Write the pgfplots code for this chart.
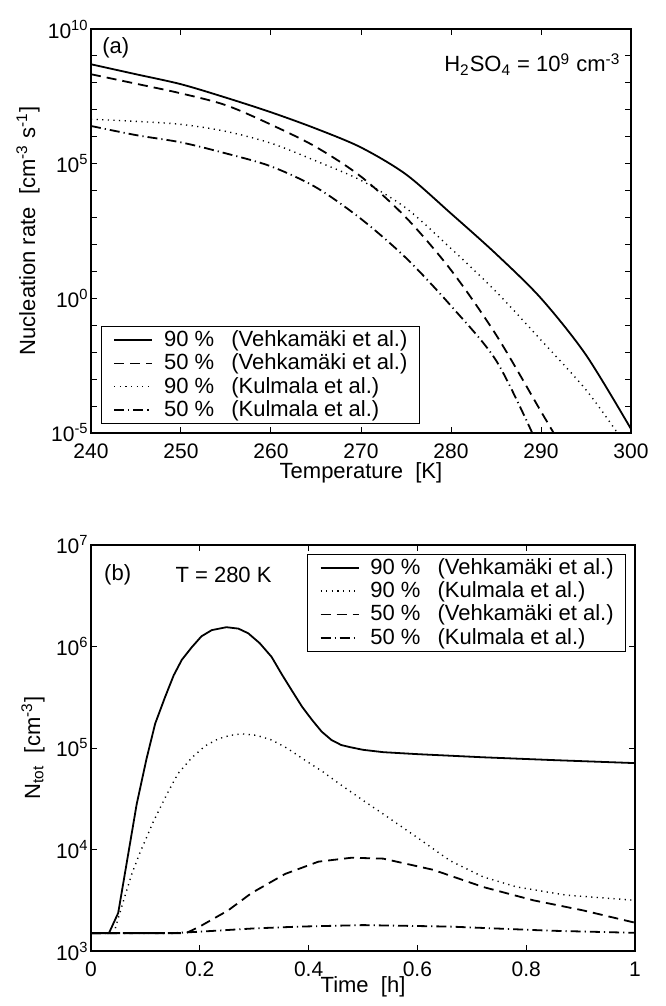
\documentclass[border=0pt]{standalone}
\usepackage{fontspec}
\setmainfont{Liberation Sans}
\usepackage{pgfplots}
\pgfplotsset{compat=1.18}

\newcommand{\lgap}{\hspace{8.5pt}}
\newcommand{\txt}{\fontsize{11}{13}\selectfont}
\pgfplotsset{
  matfig/.style={
    scale only axis,
    axis line style={line width=0.7pt},
    every tick/.style={line width=0.5pt, black},
    major tick length=3pt, minor tick length=2pt,
    tick align=inside,
    /pgf/number format/assume math mode=true,
    tick label style={font=\fontsize{10.5}{12.5}\selectfont},
    yticklabel={\pgfmathparse{int(round(\tick))}10\textsuperscript{\pgfmathresult}},
    yticklabel style={inner sep=1pt},
    xticklabel style={yshift=-2pt},
    every axis x label/.style={at={(axis description cs:0.5,0)}, anchor=center, yshift=-20pt, font=\txt},
    legend cell align=left,
    legend image code/.code={\draw[##1] (0pt,0pt) -- (19pt,0pt);},
    legend style={draw=black, fill=white, inner xsep=6pt, inner ysep=2pt,
      font=\txt, row sep=2.2pt, nodes={inner xsep=0pt, inner ysep=0pt},
      /tikz/every odd column/.append style={column sep=5.5pt}},
  },
  vsolid/.style={black, line width=0.9pt},
  vdash/.style={black, line width=0.9pt, dash pattern=on 5pt off 3pt},
  vdot/.style={black, line width=0.7pt, dash pattern=on 0.6pt off 2.2pt},
  vdashdot/.style={black, line width=0.9pt, dash pattern=on 5pt off 2pt on 0.6pt off 2pt},
}

\begin{document}
\begin{tikzpicture}
% (a) nucleation rate vs temperature
\begin{semilogyaxis}[matfig, log basis y=10,
    width=270pt, height=202pt,
    xmin=240, xmax=300, ymin=1e-5, ymax=1e10,
    xtick={240,250,...,300},
    ytick={1e-5,1,1e5,1e10},
    minor ytick={1e-4,1e-3,1e-2,1e-1,10,100,1e3,1e4,1e6,1e7,1e8,1e9},
    minor tick length=3pt,
    xlabel={Temperature~~[K]},
    ylabel={Nucleation rate~~[cm\textsuperscript{-3} s\textsuperscript{-1}]},
    every axis y label/.style={at={(axis description cs:-0.1167,0.5)}, rotate=90, anchor=center, font=\txt},
    legend style={at={(axis description cs:0.0185,0.0223)}, anchor=south west},
]
\addplot[vsolid, smooth] coordinates {
  (240,4.9e8) (245,2.09e8) (250,8.9e7) (255,2.82e7) (260,8.1e6) (265,2.0e6)
  (270,4.0e5) (275,4.0e4) (280,1.41e3) (285,44.7) (290,1.0) (295,7.9e-3) (300,1.41e-5)
};
\addlegendentry{90 \%\lgap(Vehkamäki et al.)\hspace{3pt}}
\addplot[vdash, smooth] coordinates {
  (240,2.09e8) (245,9.3e7) (250,4.07e7) (255,1.48e7) (260,2.82e6) (265,4.17e5)
  (270,3.31e4) (275,1.0e3) (280,11.2) (285,0.0447) (290,6.3e-5) (291.5,8.9e-6)
};
\addlegendentry{50 \%\lgap(Vehkamäki et al.)\hspace{3pt}}
\addplot[vdot, smooth] coordinates {
  (240,4.47e6) (245,3.72e6) (250,2.88e6) (255,1.58e6) (260,5.75e5) (265,1.26e5)
  (270,2.4e4) (275,2.24e3) (280,70.8) (285,1.78) (290,0.0282) (295,4.0e-4) (298.7,8e-6)
};
\addlegendentry{90 \%\lgap(Kulmala et al.)}
\addplot[vdashdot, smooth] coordinates {
  (240,2.51e6) (245,1.15e6) (250,6.17e5) (255,2.4e5) (260,7.94e4) (265,1.32e4)
  (270,891) (275,31.6) (280,0.525) (285,5.0e-3) (289.1,8.9e-6)
};
\addlegendentry{50 \%\lgap(Kulmala et al.)}
\node[font=\txt] at (rel axis cs:0.046,0.953) {(a)};
\node[anchor=base east, font=\txt, inner sep=0pt] at (rel axis cs:0.981,0.8936)
  {H\textsubscript{2}SO\textsubscript{4} = 10\textsuperscript{9} cm\textsuperscript{-3}};
\end{semilogyaxis}

% (b) total number concentration vs time
\begin{semilogyaxis}[matfig, log basis y=10,
    at={(0pt,-259pt)},
    width=272pt, height=203pt,
    xmin=0, xmax=1, ymin=1e3, ymax=1e7,
    xtick={0,0.2,...,1},
    ytick={1e3,1e4,1e5,1e6,1e7},
    xlabel={Time~~[h]},
    ylabel={N\textsubscript{tot}~~[cm\textsuperscript{-3}]},
    every axis x label/.style={at={(axis description cs:0.5,0)}, anchor=center, yshift=-18pt, font=\txt},
    every axis y label/.style={at={(axis description cs:-0.1066,0.5)}, rotate=90, anchor=center, font=\txt},
    legend style={at={(axis description cs:0.9835,0.978)}, anchor=north east},
]
\addplot[vsolid] coordinates {
  (0,1500) (0.033,1500) (0.05,2370) (0.084,2.8e4) (0.102,7.8e4) (0.118,1.74e5)
  (0.136,3.16e5) (0.152,5.2e5) (0.167,7.4e5) (0.185,9.8e5) (0.203,1.26e6) (0.222,1.45e6)
  (0.249,1.55e6) (0.271,1.5e6) (0.289,1.35e6) (0.31,1.08e6) (0.332,7.9e5) (0.35,5.4e5)
  (0.369,3.7e5) (0.388,2.55e5) (0.406,1.9e5) (0.424,1.45e5) (0.442,1.2e5) (0.46,1.07e5)
  (0.476,1.02e5) (0.5,9.6e4) (0.537,9.1e4) (0.6,8.7e4) (0.721,8.1e4) (0.85,7.6e4) (1.0,7.1e4)
};
\addlegendentry{90 \%\lgap(Vehkamäki et al.)\hspace{3pt}}
\addplot[vdot] coordinates {
  (0,1500) (0.042,1500) (0.06,3160) (0.075,5750) (0.09,9300) (0.115,1.9e4)
  (0.14,3.55e4) (0.16,5.6e4) (0.185,8.0e4) (0.21,1.05e5) (0.234,1.23e5) (0.255,1.33e5)
  (0.277,1.38e5) (0.305,1.33e5) (0.332,1.2e5) (0.36,1.0e5) (0.393,7.6e4) (0.425,5.9e4)
  (0.455,4.5e4) (0.504,2.95e4) (0.537,2.24e4) (0.599,1.32e4) (0.66,7760) (0.721,5370)
  (0.783,4270) (0.874,3550) (1.0,3160)
};
\addlegendentry{90 \%\lgap(Kulmala et al.)}
\addplot[vdash] coordinates {
  (0,1500) (0.175,1500) (0.203,1780) (0.252,2510) (0.295,3720) (0.357,5750)
  (0.418,7590) (0.479,8300) (0.537,8130) (0.629,6310) (0.721,4270) (0.813,3160)
  (0.905,2510) (1.0,1900)
};
\addlegendentry{50 \%\lgap(Vehkamäki et al.)\hspace{3pt}}
\addplot[vdashdot] coordinates {
  (0,1500) (0.15,1500) (0.2,1550) (0.3,1670) (0.384,1740) (0.5,1800) (0.66,1740)
  (0.844,1585) (1.0,1510)
};
\addlegendentry{50 \%\lgap(Kulmala et al.)}
\node[font=\txt] at (rel axis cs:0.049,0.926) {(b)};
\node[font=\txt] at (rel axis cs:0.2436,0.926) {T = 280 K};
\end{semilogyaxis}
\pgfresetboundingbox
\path[use as bounding box] (-45.5pt,-286.5pt) rectangle (287pt,216.5pt);
\end{tikzpicture}
\end{document}
